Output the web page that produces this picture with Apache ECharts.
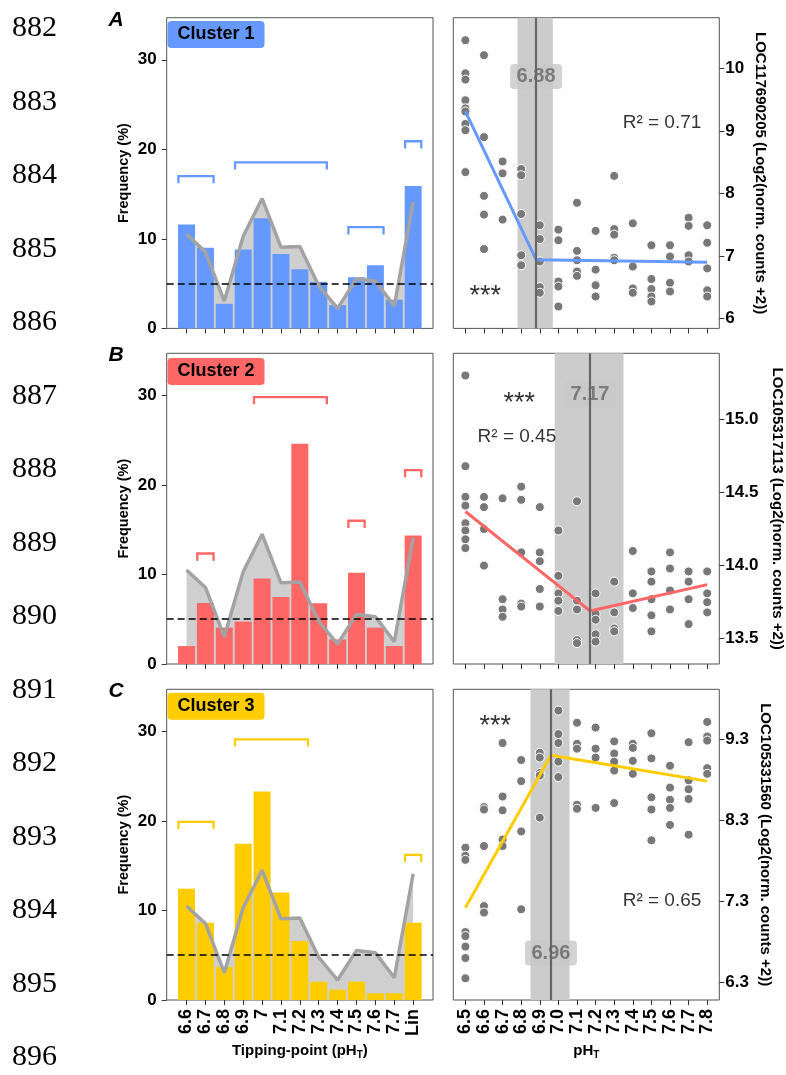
<!DOCTYPE html>
<html><head><meta charset="utf-8">
<script src="https://cdn.jsdelivr.net/npm/echarts@6/dist/echarts.min.js"></script>
<style>html,body{margin:0;padding:0;background:#fff}#chart{width:786px;height:1075px}</style>
</head><body><div id="chart"></div>
<script>
// ---------------- DATA ----------------
const tipCats = ['6.6','6.7','6.8','6.9','7','7.1','7.2','7.3','7.4','7.5','7.6','7.7','Lin'];
const bgFreq  = [10.5, 8.55, 3.05, 10.3, 14.5, 9.07, 9.15, 4.76, 2.23, 5.54, 5.28, 2.5, 14.1];
const freqC1  = [11.6, 9.0, 2.75, 8.8, 12.3, 8.3, 6.6, 5.2, 2.6, 5.7, 7.06, 3.2, 15.9];
const freqC2  = [2.0, 6.8, 4.06, 4.73, 9.54, 7.49, 24.6, 6.78, 2.75, 10.2, 4.06, 2.0, 14.35];
const freqC3  = [12.43, 8.62, 3.69, 17.46, 23.28, 12.01, 6.6, 2.05, 1.16, 2.05, 0.75, 0.75, 8.62];
const threshold = 5;
// brackets: [first category index, last category index, height %]
const bracketsC1 = [[0,1,17.0],[3,7,18.55],[9,10,11.3],[12,12,20.9]];
const bracketsC2 = [[1,1,12.34],[4,7,29.8],[9,9,16.0],[12,12,21.65]];
const bracketsC3 = [[0,1,19.9],[3,6,29.1],[12,12,16.2]];
const freqTicks = [0,10,20,30];

const phLevels = [6.5,6.6,6.7,6.8,6.9,7.0,7.1,7.2,7.3,7.4,7.5,7.6,7.7,7.8];
const exprC1 = [
  [10.45, 9.92, 9.82, 9.49, 9.36, 9.31, 9.11, 9.01, 8.34],
  [10.21, 8.90, 7.96, 7.66, 7.11],
  [8.51, 8.32, 7.58],
  [8.39, 8.29, 7.67, 7.01, 6.85],
  [7.49, 7.27, 6.91, 6.50, 6.41],
  [7.42, 7.25, 6.59, 6.51, 6.19],
  [7.85, 7.08, 6.93, 6.75, 6.68],
  [7.40, 6.78, 6.53, 6.35],
  [8.28, 7.43, 7.34, 6.97, 6.93],
  [7.52, 6.83, 6.48, 6.41],
  [7.17, 6.63, 6.47, 6.35, 6.27],
  [7.17, 6.99, 6.57, 6.43],
  [7.61, 7.48, 7.01, 6.91],
  [7.49, 7.21, 6.80, 6.45, 6.35]
];
const exprC2 = [
  [15.30, 14.68, 14.47, 14.41, 14.29, 14.24, 14.18, 14.12],
  [14.47, 14.40, 14.25, 14.00],
  [14.46, 13.77, 13.70, 13.65],
  [14.54, 14.45, 14.09, 13.74, 13.72],
  [14.40, 14.09, 14.03, 13.84, 13.72],
  [14.24, 13.93, 13.81, 13.76, 13.69],
  [14.44, 13.76, 13.70, 13.49, 13.47],
  [13.81, 13.67, 13.63, 13.53, 13.48],
  [13.89, 13.68, 13.57, 13.55],
  [14.10, 13.81, 13.71],
  [13.96, 13.89, 13.77, 13.66, 13.55],
  [14.09, 13.98, 13.83, 13.70],
  [13.96, 13.89, 13.77, 13.60],
  [13.96, 13.81, 13.75, 13.68]
];
const exprC3 = [
  [7.96, 7.86, 7.81, 6.92, 6.87, 6.74, 6.60, 6.35],
  [8.46, 8.43, 7.98, 7.24, 7.16],
  [9.25, 8.59, 8.42, 8.06, 7.98],
  [9.04, 8.78, 8.16, 7.20],
  [9.13, 9.07, 8.88, 8.85, 8.33],
  [9.65, 9.36, 9.25, 9.02, 8.83],
  [9.50, 9.24, 9.18, 8.49, 8.44],
  [9.44, 9.18, 9.07, 8.45],
  [9.27, 9.12, 9.02, 8.91, 8.51],
  [9.24, 9.19, 9.03, 8.87],
  [9.37, 9.06, 8.58, 8.43, 8.05],
  [8.97, 8.70, 8.55, 8.45, 8.24],
  [9.26, 8.79, 8.68, 8.56, 8.12],
  [9.51, 9.33, 9.28, 8.94, 8.87]
];
// segmented fits: [pH, value] at start, breakpoint, end
const fitC1 = [[6.5, 9.31],[6.88, 6.94],[7.8, 6.90]];
const fitC2 = [[6.5, 14.37],[7.17, 13.69],[7.8, 13.87]];
const fitC3 = [[6.5, 7.22],[6.96, 9.10],[7.8, 8.78]];
const breakC1 = 6.88, breakC2 = 7.17, breakC3 = 6.96;
const ciC1 = [6.78, 6.97], ciC2 = [6.98, 7.35], ciC3 = [6.85, 7.06];
const r2C1 = '0.71', r2C2 = '0.45', r2C3 = '0.65';
const genes = ['LOC117690205', 'LOC105317113', 'LOC105331560'];
const clusterNames = ['Cluster 1','Cluster 2','Cluster 3'];
const panelLetters = ['A','B','C'];
const yTicksC1 = [6,7,8,9,10];
const yTicksC2 = [13.5,14.0,14.5,15.0];
const yTicksC3 = [6.3,7.3,8.3,9.3];
const lineNumbers = [882,883,884,885,886,887,888,889,890,891,892,893,894,895,896];

// ---------------- LAYOUT / STYLE ----------------
const colors = ['#6699ff','#ff6666','#ffcc00'];
const tops = [17.7, 353.3, 689.3];
const H = 310.7;
const LG = {left:166.7, width:266.3};
const RG = {left:453.3, width:266};
const yRanges = [[5.84,10.81],[13.327,15.452],[6.082,9.912]];
const yTickSets = [yTicksC1, yTicksC2, yTicksC3];
const yFmt = [v=>String(Math.round(v)), v=>v.toFixed(1), v=>v.toFixed(1)];
const freqs = [freqC1, freqC2, freqC3];
const brackets = [bracketsC1, bracketsC2, bracketsC3];
const exprs = [exprC1, exprC2, exprC3];
const fits = [fitC1, fitC2, fitC3];
const breaks = [breakC1, breakC2, breakC3];
const cis = [ciC1, ciC2, ciC3];
const r2s = [r2C1, r2C2, r2C3];
const rNameGaps = [33, 50, 38];
// annotation anchor positions in data units
const bpLabelY = [9.87, 15.17, 6.66];
const r2Pos = [[7.557, 9.125],[6.777, 14.88],[7.557, 7.31]];
const starPos = [[6.607, 6.45],[6.79, 15.15],[6.66, 9.53]];
const FONT = 'Liberation Sans';
const idx = tipCats.map((_, i) => i);

const grid = [], xAxis = [], yAxis = [], series = [], title = [], graphic = [];

for (let k = 0; k < 3; k++) {
  grid.push({left:LG.left, width:LG.width, top:tops[k], height:H, show:true, borderColor:'#555', borderWidth:1, backgroundColor:'transparent'});
}
for (let k = 0; k < 3; k++) {
  grid.push({left:RG.left, width:RG.width, top:tops[k], height:H, show:true, borderColor:'#555', borderWidth:1, backgroundColor:'transparent'});
}

const subTitle = {
  a:{fontSize:15, fontWeight:'bold', color:'#000', fontFamily:FONT},
  b:{fontSize:10, fontWeight:'bold', color:'#000', fontFamily:FONT, verticalAlign:'top', padding:[8,0,0,0]}
};

// left panels
for (let k = 0; k < 3; k++) {
  const last = k === 2;
  xAxis.push({
    type:'value', gridIndex:k, min:-1.05, max:13.05,
    axisLine:{show:false, onZero:false}, splitLine:{show:false},
    axisTick:{show:true, length:5, customValues:idx, lineStyle:{color:'#333', width:1}},
    axisLabel:{show:last, customValues:idx, formatter:v=>tipCats[Math.round(v)], rotate:90,
      fontSize:18, fontWeight:'bold', color:'#000', margin:9},
    name: last ? '{a|Tipping-point (pH}{b|T}{a|)}' : '',
    nameLocation:'middle', nameGap:42, nameMoveOverlap:false, nameTextStyle:{rich:subTitle}
  });
  yAxis.push({
    type:'value', gridIndex:k, min:0, max:34.7,
    axisLine:{show:false, onZero:false}, splitLine:{show:false},
    axisTick:{show:true, length:5, customValues:freqTicks, lineStyle:{color:'#333', width:1}},
    axisLabel:{customValues:freqTicks, fontSize:17, fontWeight:'bold', color:'#000', margin:10},
    name:'Frequency (%)', nameLocation:'middle', nameGap:35, nameMoveOverlap:false,
    nameTextStyle:{fontSize:14.5, fontWeight:'bold', color:'#000'}
  });
  const bgData = bgFreq.map((v,i)=>[i,v]);
  series.push({type:'line', xAxisIndex:k, yAxisIndex:k, data:bgData, symbol:'none',
    lineStyle:{width:0}, areaStyle:{color:'#cfcfcf', opacity:1}, z:1, silent:true});
  series.push({type:'bar', xAxisIndex:k, yAxisIndex:k, data:freqs[k].map((v,i)=>[i,v]),
    barWidth:17, itemStyle:{color:colors[k]}, z:2, silent:true});
  series.push({type:'line', xAxisIndex:k, yAxisIndex:k, data:bgData, symbol:'none',
    lineStyle:{width:3.5, color:'#a3a3a3'}, z:3, silent:true,
    markLine:{silent:true, symbol:'none', label:{show:false},
      lineStyle:{type:[7,4], color:'#000', width:1.5}, data:[{yAxis:threshold}]}});
  const col = colors[k];
  series.push({type:'custom', xAxisIndex:k, yAxisIndex:k, data:brackets[k], z:5, silent:true,
    renderItem:(params, api)=>{
      const s = api.value(0), e = api.value(1), h = api.value(2);
      const pts = [api.coord([s-0.43, h-0.8]), api.coord([s-0.43, h]), api.coord([e+0.43, h]), api.coord([e+0.43, h-0.8])];
      return {type:'polyline', shape:{points:pts}, style:{stroke:col, fill:null, lineWidth:2.3}};
    }});
}

// right panels
for (let k = 0; k < 3; k++) {
  const g = k + 3, last = k === 2;
  xAxis.push({
    type:'value', gridIndex:g, min:6.435, max:7.865,
    axisLine:{show:false, onZero:false}, splitLine:{show:false},
    axisTick:{show:true, length:5, customValues:phLevels, lineStyle:{color:'#333', width:1}},
    axisLabel:{show:last, customValues:phLevels, formatter:v=>v.toFixed(1), rotate:90,
      fontSize:18, fontWeight:'bold', color:'#000', margin:9},
    name: last ? '{a|pH}{b|T}' : '', nameLocation:'middle', nameGap:42, nameMoveOverlap:false,
    nameTextStyle:{rich:subTitle}
  });
  yAxis.push({
    type:'value', gridIndex:g, position:'right', min:yRanges[k][0], max:yRanges[k][1],
    axisLine:{show:false, onZero:false}, splitLine:{show:false},
    axisTick:{show:true, length:5, customValues:yTickSets[k], lineStyle:{color:'#333', width:1}},
    axisLabel:{customValues:yTickSets[k], formatter:yFmt[k], fontSize:17, fontWeight:'bold', color:'#000', margin:6},
    name: genes[k] + ' (Log2(norm. counts +2))', nameLocation:'middle', nameRotate:-90, nameGap:rNameGaps[k],
    nameMoveOverlap:false,
    nameTextStyle:{fontSize:15, fontWeight:'bold', color:'#000'}
  });
  series.push({type:'line', xAxisIndex:g, yAxisIndex:g, data:[], z:1, silent:true,
    markArea:{silent:true, label:{show:false}, itemStyle:{color:'#cccccc', opacity:1},
      data:[[{xAxis:cis[k][0]},{xAxis:cis[k][1]}]]},
    markLine:{silent:true, symbol:'none', label:{show:false},
      lineStyle:{color:'#666', width:2.2, type:'solid'}, data:[{xAxis:breaks[k]}]}});
  const pts = [];
  exprs[k].forEach((arr, i) => arr.forEach(v => pts.push([phLevels[i], v])));
  series.push({type:'scatter', xAxisIndex:g, yAxisIndex:g, data:pts, symbolSize:9, z:2, silent:true,
    itemStyle:{color:'#787878', borderColor:'#fff', borderWidth:1, opacity:1}});
  series.push({type:'line', xAxisIndex:g, yAxisIndex:g, data:fits[k], symbol:'none', z:3, silent:true,
    lineStyle:{color:colors[k], width:3}});
  series.push({type:'scatter', xAxisIndex:g, yAxisIndex:g, data:[[breaks[k], bpLabelY[k]]], symbolSize:0, z:4, silent:true,
    label:{show:true, position:'inside', formatter:breaks[k].toFixed(2), fontSize:20, fontWeight:'bold', color:'#666',
      backgroundColor:'#c8c8c8', borderRadius:4, padding:[3,6.5,2,6.5]}});
  series.push({type:'scatter', xAxisIndex:g, yAxisIndex:g, data:[r2Pos[k]], symbolSize:0, z:4, silent:true,
    label:{show:true, position:'inside', formatter:'R² = ' + r2s[k], fontSize:19, color:'#000'}});
  series.push({type:'scatter', xAxisIndex:g, yAxisIndex:g, data:[starPos[k]], symbolSize:0, z:4, silent:true,
    label:{show:true, position:'inside', formatter:'***', fontSize:27, color:'#000', offset:[0,6]}});
}

// cluster tags and panel letters
const tagTops = [21, 358, 692.7];
for (let k = 0; k < 3; k++) {
  title.push({text:clusterNames[k], left:167.5, top:tagTops[k], backgroundColor:colors[k], borderRadius:4,
    padding:[4,10,4,10], textStyle:{fontSize:18, fontWeight:'bold', color:'#000', lineHeight:19, fontFamily:FONT}});
  graphic.push({type:'text', x:116, y:tops[k] + 2.3, z:10,
    style:{text:panelLetters[k], fill:'#000', font:'italic bold 21px "Liberation Sans"',
      textAlign:'center', textVerticalAlign:'middle', align:'center', verticalAlign:'middle'}});
}
lineNumbers.forEach((n, i) => {
  graphic.push({type:'text', x:12, y:28.5 + 73.5*i, z:10,
    style:{text:String(n), fill:'#000', font:'30px "Liberation Serif"',
      textAlign:'left', textVerticalAlign:'middle', align:'left', verticalAlign:'middle'}});
});

const chart = echarts.init(document.getElementById('chart'), null, {renderer:'canvas'});
chart.setOption({
  animation:false,
  backgroundColor:'#fff',
  textStyle:{fontFamily:FONT},
  title, grid, xAxis, yAxis, series, graphic
});
</script></body></html>
